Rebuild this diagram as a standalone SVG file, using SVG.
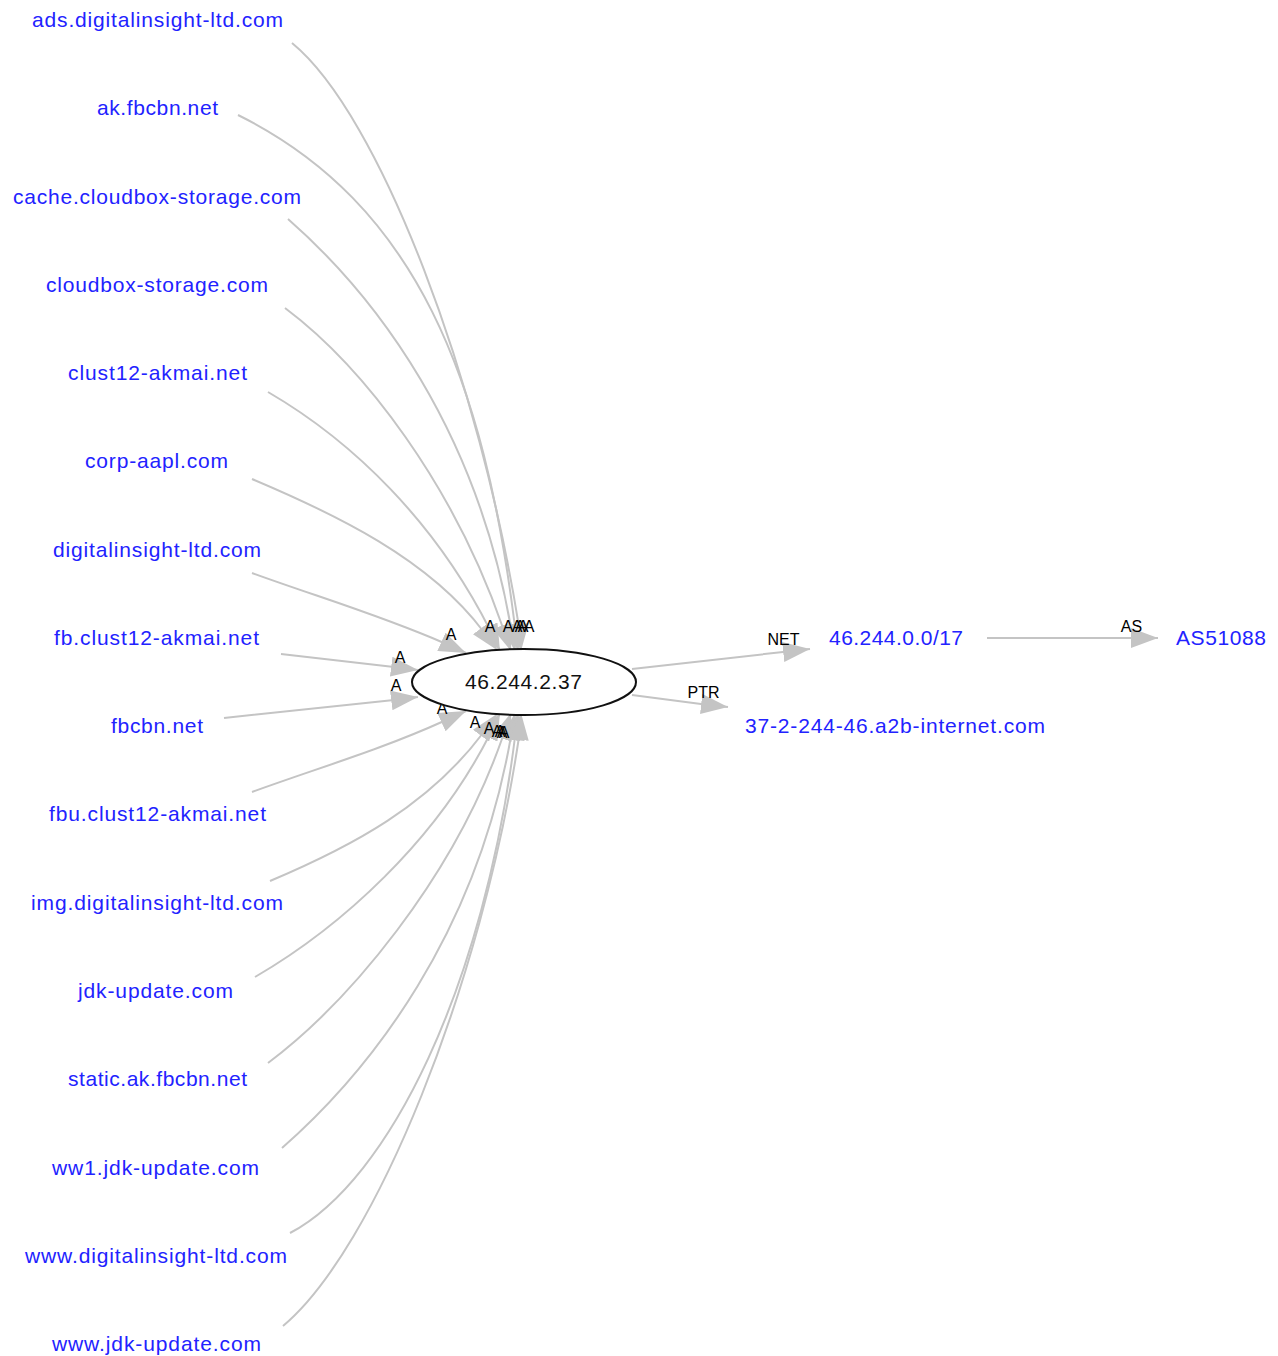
<svg xmlns="http://www.w3.org/2000/svg" width="1278" height="1356" viewBox="0 0 1278 1356">
<style>
.bg{fill:#ffffff}
.e{fill:none;stroke:#c4c4c4;stroke-width:2;marker-end:url(#ah)}
.n{font-family:"Liberation Sans",Arial,sans-serif;font-size:21px;fill:#2222ff;text-anchor:middle}
.c{font-family:"Liberation Sans",Arial,sans-serif;font-size:21px;fill:#111111;text-anchor:middle}
.l{font-family:"Liberation Sans",Arial,sans-serif;font-size:16px;fill:#000000;text-anchor:middle}
.ell{fill:#ffffff;stroke:#111111;stroke-width:2}
</style>
<defs>
<marker id="ah" viewBox="0 0 27 20" refX="27" refY="10" markerWidth="27" markerHeight="20" markerUnits="userSpaceOnUse" orient="auto">
<path d="M0,0 L27,10 L0,20 z" fill="#c4c4c4"/>
</marker>
</defs>
<rect class="bg" x="0" y="0" width="1278" height="1356"/>
<g id="edges">
<path class="e" d="M292,43 C380,115 480,380 519,627 L521,651"/>
<path class="e" d="M238,115 C417,204 484,379 515,627 L518,651"/>
<path class="e" d="M288,219 C378,298 477,431 511,628 L515,651"/>
<path class="e" d="M285,308 C365,368 454,486 503,628 L511,651"/>
<path class="e" d="M268,392 C354,442 436,523 490,630 L500,651"/>
<path class="e" d="M252,479 C335,514 429,559 483,631 L497,650"/>
<path class="e" d="M252,573 C318,597 380,615 444,643 L466,653"/>
<path class="e" d="M281,654 L394,667 L418,670"/>
<path class="e" d="M224,718 L394,700 L418,697"/>
<path class="e" d="M252,792 C318,768 380,750 444,721 L466,711"/>
<path class="e" d="M270,881 C353,846 429,805 483,733 L497,714"/>
<path class="e" d="M255,977 C341,927 436,841 490,734 L500,713"/>
<path class="e" d="M268,1063 C348,1003 454,878 503,736 L511,713"/>
<path class="e" d="M282,1148 C372,1069 477,933 511,736 L515,713"/>
<path class="e" d="M290,1233 C390,1180 484,985 515,737 L518,713"/>
<path class="e" d="M283,1326 C375,1249 482,984 519,737 L521,713"/>
<path class="e" d="M632,669 L783,652 L810,649"/>
<path class="e" d="M632,695 L701,704 L728,707"/>
<path class="e" d="M987,638 L1131,638 L1158,638"/>
</g>
<g id="edge-labels">
<text class="l" x="451" y="640">A</text>
<text class="l" x="490" y="632">A</text>
<text class="l" x="508" y="632">A</text>
<text class="l" x="517" y="632">A</text>
<text class="l" x="520" y="632">A</text>
<text class="l" x="523" y="632">A</text>
<text class="l" x="529" y="632">A</text>
<text class="l" x="400" y="663">A</text>
<text class="l" x="396" y="691">A</text>
<text class="l" x="442" y="714">A</text>
<text class="l" x="475" y="728">A</text>
<text class="l" x="489" y="734">A</text>
<text class="l" x="497" y="737">A</text>
<text class="l" x="500" y="737">A</text>
<text class="l" x="502" y="738">A</text>
<text class="l" x="504" y="738">A</text>
<text class="l" x="783.5" y="645">NET</text>
<text class="l" x="703.5" y="698">PTR</text>
<text class="l" x="1131.5" y="632">AS</text>
</g>
<g id="n-center"><ellipse class="ell" cx="524" cy="682" rx="112" ry="33"/><text class="c" x="523.5" y="689" textLength="117" lengthAdjust="spacing">46.244.2.37</text></g>
<g id="n-ads"><text class="n" x="157.5" y="27" textLength="251" lengthAdjust="spacing">ads.digitalinsight-ltd.com</text></g>
<g id="n-ak"><text class="n" x="157.5" y="115.3" textLength="121" lengthAdjust="spacing">ak.fbcbn.net</text></g>
<g id="n-cache"><text class="n" x="157" y="203.5" textLength="288" lengthAdjust="spacing">cache.cloudbox-storage.com</text></g>
<g id="n-cloudbox"><text class="n" x="157" y="291.8" textLength="222" lengthAdjust="spacing">cloudbox-storage.com</text></g>
<g id="n-clust12"><text class="n" x="157.5" y="380.1" textLength="179" lengthAdjust="spacing">clust12-akmai.net</text></g>
<g id="n-corp"><text class="n" x="156.5" y="468.4" textLength="143" lengthAdjust="spacing">corp-aapl.com</text></g>
<g id="n-digital"><text class="n" x="157" y="556.6" textLength="208" lengthAdjust="spacing">digitalinsight-ltd.com</text></g>
<g id="n-fbclust"><text class="n" x="156.5" y="644.9" textLength="205" lengthAdjust="spacing">fb.clust12-akmai.net</text></g>
<g id="n-fbcbn"><text class="n" x="157" y="733.2" textLength="92" lengthAdjust="spacing">fbcbn.net</text></g>
<g id="n-fbu"><text class="n" x="157.5" y="821.4" textLength="217" lengthAdjust="spacing">fbu.clust12-akmai.net</text></g>
<g id="n-img"><text class="n" x="157" y="909.7" textLength="252" lengthAdjust="spacing">img.digitalinsight-ltd.com</text></g>
<g id="n-jdk"><text class="n" x="155.5" y="998" textLength="155" lengthAdjust="spacing">jdk-update.com</text></g>
<g id="n-static"><text class="n" x="157.5" y="1086.2" textLength="179" lengthAdjust="spacing">static.ak.fbcbn.net</text></g>
<g id="n-ww1"><text class="n" x="155.5" y="1174.5" textLength="207" lengthAdjust="spacing">ww1.jdk-update.com</text></g>
<g id="n-wwwdigital"><text class="n" x="156" y="1262.8" textLength="262" lengthAdjust="spacing">www.digitalinsight-ltd.com</text></g>
<g id="n-wwwjdk"><text class="n" x="156.5" y="1351" textLength="209" lengthAdjust="spacing">www.jdk-update.com</text></g>
<g id="n-net"><text class="n" x="896" y="645" textLength="134" lengthAdjust="spacing">46.244.0.0/17</text></g>
<g id="n-ptr"><text class="n" x="895" y="733" textLength="300" lengthAdjust="spacing">37-2-244-46.a2b-internet.com</text></g>
<g id="n-as"><text class="n" x="1221" y="645" textLength="90" lengthAdjust="spacing">AS51088</text></g>
</svg>
